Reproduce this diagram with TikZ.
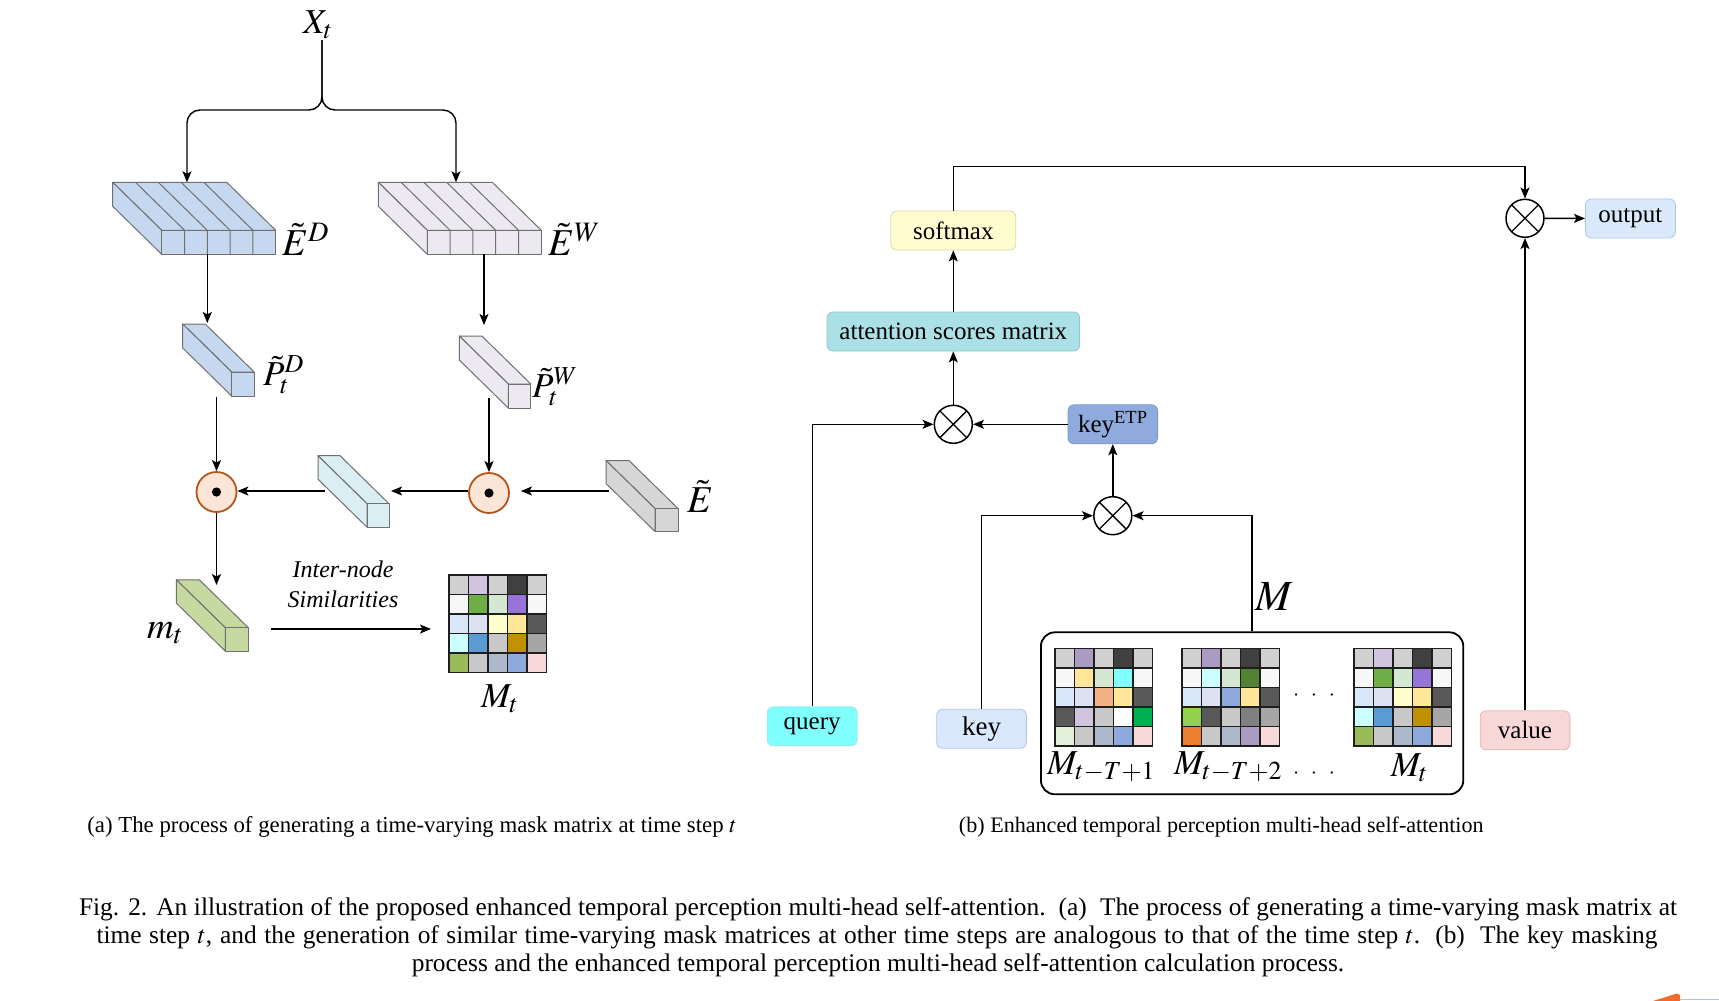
\documentclass[tikz,border=0pt]{standalone}
\usepackage{mathptmx}
\usepackage[no-math]{fontspec}
\setmainfont{Liberation Serif}
\usetikzlibrary{arrows.meta}

\definecolor{cubeedge}{HTML}{707070}
\definecolor{edfill}{HTML}{C6D8EF}
\definecolor{ewfill}{HTML}{ECE9F1}
\definecolor{lbfill}{HTML}{DAEEF3}
\definecolor{efill}{HTML}{D6D6D6}
\definecolor{mfill}{HTML}{C5D9A0}
\definecolor{odotf}{HTML}{FBE5D6}
\definecolor{odotb}{HTML}{B5541A}
\definecolor{gridc}{HTML}{1E1E1E}
\definecolor{softf}{HTML}{FFFDD0}
\definecolor{softd}{HTML}{DADAB0}
\definecolor{attf}{HTML}{ABE1E6}
\definecolor{attd}{HTML}{8EC8CE}
\definecolor{ketpf}{HTML}{8FAADC}
\definecolor{ketpd}{HTML}{7E98C8}
\definecolor{outf}{HTML}{DAE8FC}
\definecolor{outd}{HTML}{AFC6E6}
\definecolor{queryf}{HTML}{80FFFF}
\definecolor{queryd}{HTML}{A6E6E6}
\definecolor{valf}{HTML}{F8D7D7}
\definecolor{vald}{HTML}{E2B8B8}
\definecolor{artor}{HTML}{F26B2A}
\definecolor{artbl}{HTML}{A9C8E0}
% matrix palette
\definecolor{cgl}{HTML}{D0D0D0}
\definecolor{clav}{HTML}{D0C4DE}
\definecolor{cmpu}{HTML}{A99BC2}
\definecolor{cdk}{HTML}{404040}
\definecolor{cwh}{HTML}{F7F7F7}
\definecolor{cgr}{HTML}{70AD47}
\definecolor{clg}{HTML}{D3E7D3}
\definecolor{cpu}{HTML}{9775D8}
\definecolor{clb}{HTML}{DAE7FB}
\definecolor{cpw}{HTML}{DDE2F3}
\definecolor{cly}{HTML}{FFFFCC}
\definecolor{cgo}{HTML}{FFE699}
\definecolor{cdg}{HTML}{595959}
\definecolor{ccy}{HTML}{CCFFFF}
\definecolor{cbl}{HTML}{5B9BD5}
\definecolor{cgb}{HTML}{C8C8C8}
\definecolor{cdgo}{HTML}{BF9000}
\definecolor{cgc}{HTML}{A6A6A6}
\definecolor{col}{HTML}{9BBB59}
\definecolor{cbg}{HTML}{ADB9CA}
\definecolor{cpe}{HTML}{8EA9DB}
\definecolor{cpk}{HTML}{F8D9D9}
\definecolor{ccyb}{HTML}{7FFFFF}
\definecolor{cpch}{HTML}{F4B183}
\definecolor{cwt}{HTML}{FFFFFF}
\definecolor{cgn}{HTML}{00B050}
\definecolor{cvlg}{HTML}{E2EFDA}
\definecolor{cdgr}{HTML}{548235}
\definecolor{cbgr}{HTML}{92D050}
\definecolor{cgd}{HTML}{808080}
\definecolor{cor}{HTML}{ED7D31}

\tikzset{
  arr/.style={-{Stealth[length=11pt,width=9pt,inset=2.5pt]}, line width=1.4pt},
  cubestyle/.style={draw=cubeedge, line width=1pt, line join=round},
  box/.style={draw, rounded corners=6pt, minimum height=39pt, inner sep=2pt,
    line width=0.8pt, font=\fontsize{25}{28}\selectfont},
  otimesnode/.style={circle, draw, line width=1.5pt, minimum size=38pt, inner sep=0pt,
    fill=white, path picture={\draw[black, line width=1.3pt]
      (path picture bounding box.south west) -- (path picture bounding box.north east)
      (path picture bounding box.north west) -- (path picture bounding box.south east);}},
  odotnode/.style={circle, draw=odotb, fill=odotf, line width=1.8pt, minimum size=40pt,
    inner sep=0pt, path picture={\fill[black] (path picture bounding box.center) circle (4.6pt);}},
  mathlbl/.style={inner sep=0pt, anchor=base west, font=\fontsize{35}{40}\selectfont},
  capsub/.style={anchor=base, inner sep=0pt, font=\fontsize{22.8}{26}\selectfont},
  capmain/.style={anchor=base, inner sep=0pt, font=\fontsize{25.4}{28}\selectfont},
}

\newcommand{\mycube}[5]{%
  \filldraw[cubestyle, fill=#5] (#1,#2) -- ++(#3,0) -- ++(49,48) -- ++(-#3,0) -- cycle;
  \filldraw[cubestyle, fill=#5] (#1,#2) -- ++(49,48) -- ++(0,#4) -- ++(-49,-48) -- cycle;
  \filldraw[cubestyle, fill=#5] ({#1+49},{#2+48}) rectangle ++(#3,#4);}
\newcommand{\myslab}[5]{\mycube{#1}{#2}{#3}{#4}{#5}%
  \foreach \k in {1,2,3,4} {\draw[cubestyle] ({#1+\k*#3/5},#2) -- ++(49,48) -- ++(0,#4);}}
\newcommand{\mmat}[3]{%
  \foreach \c [count=\i from 0] in {#3} {
    \pgfmathtruncatemacro{\rr}{div(\i,5)}
    \pgfmathtruncatemacro{\cc}{mod(\i,5)}
    \filldraw[fill=\c, draw=gridc, line width=1.5pt] ({#1+\cc*19.5},{#2+\rr*19.5}) rectangle ++(19.5,19.5);
  }}

\begin{document}
\begin{tikzpicture}[x=1pt, y=-1pt]
\useasboundingbox (0,0) rectangle (1719,1001);
\fill[white] (0,0) rectangle (1719,1001);

% ---------------- (a) ----------------
\myslab{112.7}{182.3}{114}{24}{edfill}
\myslab{378.3}{182.3}{114}{24}{ewfill}
\mycube{182.7}{324}{22.5}{24}{edfill}
\mycube{459.3}{336}{22.5}{24}{ewfill}
\mycube{318}{455.7}{22}{23.5}{lbfill}
\mycube{606}{460.5}{23}{23}{efill}
\mycube{176.4}{579.8}{23}{23.4}{mfill}
\mmat{448.8}{575}{cgl,clav,cgl,cdk,cgl, cwh,cgr,clg,cpu,cwh, clb,cpw,cly,cgo,cdg, ccy,cbl,cgb,cdgo,cgc, col,cgb,cbg,cpe,cpk}

\node[mathlbl] (xt) at (303,33) {$X_t$};
\node[mathlbl, font=\fontsize{38}{42}\selectfont] (edl) at (282,255) {$\tilde{E}^D$};
\node[mathlbl, font=\fontsize{38}{42}\selectfont] (ewl) at (548,255) {$\tilde{E}^W$};
\node[mathlbl] (pdl) at (263,385) {$\tilde{P}_t^D$};
\node[mathlbl] (pwl) at (532,397) {$\tilde{P}_t^W$};
\node[mathlbl, font=\fontsize{38}{42}\selectfont] (el) at (687,512) {$\tilde{E}$};
\node[mathlbl, font=\fontsize{37}{42}\selectfont] (ml) at (147,638) {$m_t$};
\node[mathlbl] (mtl) at (481,707) {$M_t$};
\node[anchor=base, inner sep=0pt, font=\fontsize{24}{28}\itshape] (in1) at (343,577) {Inter-node};
\node[anchor=base, inner sep=0pt, font=\fontsize{24}{28}\itshape] (in2) at (343,607) {Similarities};

\node[odotnode] (od1) at (216.5,492) {};
\node[odotnode] (od2) at (489,493) {};

\coordinate (xtb) at (322,40);
\coordinate (EDin) at (187,182.3);
\coordinate (EWin) at (456,182.3);
\coordinate (EDout) at (207.3,254.3);
\coordinate (PDin) at (207.3,323);
\coordinate (EWout) at (484,254.3);
\coordinate (PWin) at (484,325);
\coordinate (PDout) at (216.5,397);
\coordinate (PWout) at (489,398);
\coordinate (Ebl) at (609,491);
\coordinate (LBr) at (391,491);
\coordinate (LBl) at (325,491);
\coordinate (MTin) at (216.5,585);
\coordinate (ISs) at (271.3,629);
\coordinate (ISe) at (431,629);

\draw[arr, rounded corners=13pt] (xtb) -- (322,110) -- (187,110) -- (EDin);
\draw[arr, rounded corners=13pt] (xtb) -- (322,110) -- (456,110) -- (EWin);
\draw[arr] (EDout) -- (PDin);
\draw[arr] (EWout) -- (PWin);
\draw[arr] (PDout) -- (od1);
\draw[arr] (PWout) -- (od2);
\draw[arr, shorten >=11pt] (Ebl) -- (od2.east |- Ebl);
\draw[arr] (od2.west |- LBr) -- (LBr);
\draw[arr] (LBl) -- (od1.east |- LBl);
\draw[arr] (od1) -- (MTin);
\draw[arr] (ISs) -- (ISe);

% ---------------- (b) ----------------
\node[box, fill=softf, draw=softd, minimum width=125pt] (softmax) at (953.3,230.5) {softmax};
\node[box, fill=attf, draw=attd, minimum width=252.6pt] (att) at (953.3,331.5) {attention scores matrix};
\node[otimesnode] (ot1) at (953.3,424.3) {};
\node[box, fill=ketpf, draw=ketpd, minimum width=89.6pt] (ketp) at (1112.8,424.3) {key\textsuperscript{ETP}};
\node[otimesnode] (ot2) at (1112.8,515.7) {};
\node[otimesnode] (ot3) at (1525,218.3) {};
\node[box, fill=outf, draw=outd, minimum width=90pt] (output) at (1630.4,218.5) {output};
\node[box, fill=queryf, draw=queryd, minimum width=90pt] (query) at (812.2,726.3) {query};
\node[box, fill=outf, draw=outd, minimum width=89.7pt, font=\fontsize{27}{30}\selectfont] (key) at (981.5,728.8) {key};
\node[box, fill=valf, draw=vald, minimum width=89.7pt] (value) at (1525,730.3) {value};
\node[draw, line width=1.8pt, rounded corners=14pt, minimum width=422.4pt, minimum height=162pt, inner sep=0pt] (mbox) at (1252.1,713.3) {};

\mmat{1054.8}{648.3}{cgl,cmpu,cgl,cdk,cgl, cwh,cgo,clg,ccyb,cwh, clb,cpw,cpch,cgo,cdg, cdg,clav,cgb,cwt,cgn, cvlg,cgb,cbg,cpe,cpk}
\mmat{1182}{648.3}{cgl,cmpu,cgl,cdk,cgl, cwh,ccy,clg,cdgr,cwh, clb,cpw,cpe,cgo,cdg, cbgr,cdg,cgb,cgd,cgc, cor,cgb,cbg,cmpu,cpk}
\mmat{1354.2}{648.3}{cgl,clav,cgl,cdk,cgl, cwh,cgr,clg,cpu,cwh, clb,cpw,cly,cgo,cdg, ccy,cbl,cgb,cdgo,cgc, col,cgb,cbg,cpe,cpk}

\node[mathlbl] (m1l) at (1047,774) {$M_{t-T+1}$};
\node[mathlbl] (m2l) at (1174,774) {$M_{t-T+2}$};
\node[mathlbl] (m3l) at (1390.6,776) {$M_t$};
\node[mathlbl, font=\fontsize{43}{48}\selectfont] (mlab) at (1254.8,610) {$M$};
\node[anchor=base, inner sep=0pt, font=\fontsize{22}{26}\selectfont] (dots1) at (1314,700) {\makebox[42pt][s]{$\cdot$\hfill$\cdot$\hfill$\cdot$}};
\node[anchor=base, inner sep=0pt, font=\fontsize{22}{26}\selectfont] (dots2) at (1314,778) {\makebox[42pt][s]{$\cdot$\hfill$\cdot$\hfill$\cdot$}};

\coordinate (topL) at (953.3,166.7);
\draw[line width=1.4pt] (softmax.north) -- (topL);
\draw[arr] (topL) -| (ot3);
\draw[arr] (ot3) -- (output);
\draw[arr] (value) -- (ot3);
\draw[arr] (att) -- (softmax);
\draw[arr] (ot1) -- (att);
\draw[arr] (query) |- (ot1);
\draw[arr] (ketp) -- (ot1);
\draw[arr] (ot2) -- (ketp);
\draw[arr] (key) |- (ot2);
\draw[arr] (mbox) |- (ot2);

% ---------------- captions ----------------
\node[capsub] (capa) at (412,832) {(a) The process of generating a time-varying mask matrix at time step $t$};
\node[capsub, font=\fontsize{22.1}{26}\selectfont] (capb) at (1221.3,832) {(b) Enhanced temporal perception multi-head self-attention};
\node[capmain] (cap1) at (878,915) {\makebox[1598pt][s]{Fig. 2. An illustration of the proposed enhanced temporal perception multi-head self-attention.\ \ (a)\ \ The process of generating a time-varying mask matrix at}};
\node[capmain] (cap2) at (877,943) {\makebox[1561pt][s]{time step $t$, and the generation of similar time-varying mask matrices at other time steps are analogous to that of the time step $t$.\ \ (b)\ \ The key masking}};
\node[capmain] (cap3) at (878,971) {process and the enhanced temporal perception multi-head self-attention calculation process.};

% corner artifact
\fill[artor] (1653,1001) -- (1677,993.5) -- (1680,995) -- (1680,1001) -- cycle;
\draw[artbl, line width=1pt] (1680,999) -- (1719,999);
\end{tikzpicture}
\end{document}
